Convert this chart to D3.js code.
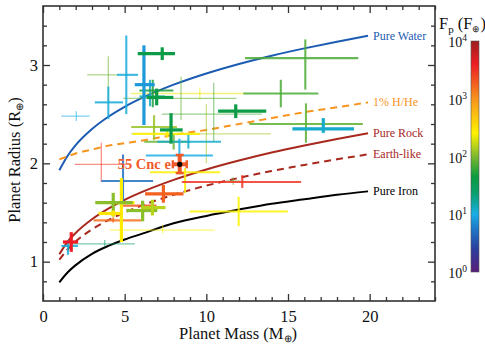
<!DOCTYPE html>
<html><head><meta charset="utf-8">
<script src="https://cdn.jsdelivr.net/npm/d3@7"></script>
<style>body{margin:0;background:#fff} svg{display:block} text{font-family:'Liberation Serif','Times New Roman',serif}</style>
</head><body>
<svg id="c" width="485" height="346"></svg>
<script>
// ---------- data ----------
// planets: mass, mass range, radius, radius range, incident flux, precision class
const pMass   = [2.04,4.0,4.0,5.1,6.18,7.3,6.55,6.72,6.96,9.6,8.45,10.45,10.0,6.8,7.84,8.0,8.9,8.35,7.6,3.57,4.9,4.8,4.3,4.3,4.3,7.33,6.1,6.7,6.1,7.37,8.7,12.2,11.65,11.98,1.73,1.53,3.78,16.06,14.56,11.8,16.1,17.16];
const pMassLo = [1.12,2.7,3.17,4.53,5.62,5.8,5.9,5.9,6.35,5.4,4.9,7.27,5.4,5.4,7.16,6.2,7.0,6.3,5.5,1.94,3.57,4.0,3.2,3.4,3.1,4.1,5.1,6.0,4.8,6.25,6.55,8.5,11.2,8.98,1.22,1.12,1.63,12.37,12.27,10.72,12.63,15.27];
const pMassHi = [2.86,4.55,4.9,5.82,6.84,8.08,7.47,7.98,7.98,12.35,11.85,13.4,13.95,8.2,8.55,9.0,10.9,10.4,9.6,5.4,6.74,5.6,5.5,4.9,6.0,10.5,7.0,7.5,6.95,8.6,10.85,15.8,12.1,14.99,2.15,2.14,5.62,19.3,16.86,13.67,19.58,19.04];
const pRad    = [2.48,2.90,2.62,2.90,2.80,3.115,2.68,2.74,2.67,2.71,2.66,2.50,2.30,2.37,2.34,2.22,2.22,2.08,2.30,1.99,1.82,1.60,1.60,1.49,1.42,1.32,1.52,1.55,1.57,1.69,1.91,1.81,1.82,1.51,1.20,1.16,1.18,3.07,2.71,2.53,2.40,2.35];
const pRadLo  = [2.43,2.64,2.45,2.50,2.39,3.05,2.58,2.57,2.59,2.65,2.44,2.22,2.00,2.24,2.20,2.14,2.15,1.98,2.26,1.81,1.59,1.20,1.46,1.46,1.40,1.29,1.41,1.47,1.53,1.60,1.70,1.75,1.78,1.36,1.10,1.07,1.15,2.75,2.57,2.46,2.21,2.31];
const pRadHi  = [2.53,3.09,2.78,3.30,3.20,3.18,2.85,2.85,2.76,2.77,2.88,2.82,2.60,2.49,2.51,2.30,2.30,2.25,2.34,2.21,2.09,1.85,1.70,1.52,1.45,1.37,1.62,1.63,1.61,1.78,1.95,1.88,1.86,1.66,1.30,1.22,1.22,3.26,2.85,2.60,2.61,2.46];
const pFlux   = [10,90,11,11,8,40,13,50,40,220,80,70,130,120,40,90,12,10,260,3000,5,280,110,300,1500,250,110,150,2000,1800,270,3000,80,250,4000,11,25,70,70,40,80,12];
const pPrec   = [1,1,2,2,3,3,2,2,3,1,1,1,1,2,3,2,2,2,2,1,2,3,3,3,2,1,3,3,2,3,2,2,1,2,3,2,1,2,2,3,2,3];

// highlighted planet
const cncName = "55 Cnc e";
const cncMass = 8.37, cncMassLo = 7.95, cncMassHi = 8.8;
const cncRad = 1.99, cncRadLo = 1.90, cncRadHi = 2.085;

// composition curves
const curveMass = [1,1.5,2,3,4,5,6,8,10,12,14,16,18,19.9];
const waterR = [1.93,2.075,2.185,2.349,2.474,2.575,2.66,2.80,2.914,3.011,3.095,3.169,3.237,3.297];
const hheR   = [2.04,2.07,2.10,2.14,2.18,2.205,2.23,2.29,2.34,2.40,2.46,2.52,2.57,2.62];
const rockR  = [1.075,1.202,1.292,1.431,1.539,1.628,1.704,1.832,1.938,2.029,2.11,2.182,2.248,2.306];
const earthR = [1.02,1.124,1.205,1.328,1.423,1.501,1.568,1.68,1.773,1.852,1.922,1.984,2.041,2.091];
const ironR  = [0.79,0.89,0.965,1.08,1.16,1.225,1.28,1.39,1.465,1.53,1.59,1.635,1.68,1.715];
const curveNames = ["Pure Water","1% H/He","Pure Rock","Earth-like","Pure Iron"];

// axes
const xMajor = [0,5,10,15,20];
const yMajor = [1,2,3];
const cbExp = [0,1,2,3,4];

// colour bar stops (log10 flux)
const cbStopLog = [0,0.4,0.75,1.0,1.35,1.65,2.0,2.4,3.0,3.6,4.0];
const cbStopCol = ["#5a1d7a","#2b3f9e","#1f78c8","#1aaee6","#0aa070","#0c9a3e","#7cb82f","#fff200","#f7941d","#ed1c24","#9e1f1f"];

// ---------- drawing ----------
const FONT = "'Liberation Serif','Times New Roman',serif";
const svg = d3.select('#c').style('font-family', FONT);
const x = d3.scaleLinear().domain([0,24]).range([43,435]);
const y = d3.scaleLinear().domain([0.6,3.6]).range([301,6]);
const col = d3.scaleLinear().domain(cbStopLog).range(cbStopCol).interpolate(d3.interpolateRgb).clamp(true);
const wScale = d3.scaleOrdinal().domain([1,2,3]).range([1.3,2.1,3.2]);
const oScale = d3.scaleOrdinal().domain([1,2,3]).range([0.55,0.85,1]);

// curves
const line = d3.line().x(d => x(d[0])).y(d => y(d[1])).curve(d3.curveMonotoneX);
const curves = [
  {r: waterR, c: "#1b5cb2", dash: null},
  {r: hheR,   c: "#f7941d", dash: "7,5"},
  {r: rockR,  c: "#a8281e", dash: null},
  {r: earthR, c: "#a8281e", dash: "7,5"},
  {r: ironR,  c: "#000000", dash: null}
];
const gc = svg.append('g');
curves.forEach((cv, i) => {
  const pts = curveMass.map((m, j) => [m, cv.r[j]]);
  gc.append('path').attr('d', line(pts)).attr('fill','none')
    .attr('stroke', cv.c).attr('stroke-width', 2)
    .attr('stroke-dasharray', cv.dash);
  gc.append('text').attr('x', x(curveMass[curveMass.length-1]) + 5)
    .attr('y', y(cv.r[cv.r.length-1]) + 4)
    .attr('font-size', 12).attr('fill', cv.c).text(curveNames[i]);
});

// planets
const idx = d3.range(pMass.length).sort((a,b) => pPrec[a]-pPrec[b]);
const gp = svg.append('g');
idx.forEach(i => {
  const c = col(Math.log10(pFlux[i]));
  const g = gp.append('g').attr('stroke', c).attr('stroke-width', wScale(pPrec[i]))
    .attr('stroke-opacity', oScale(pPrec[i]));
  g.append('line').attr('x1', x(pMassLo[i])).attr('x2', x(pMassHi[i]))
    .attr('y1', y(pRad[i])).attr('y2', y(pRad[i]));
  g.append('line').attr('x1', x(pMass[i])).attr('x2', x(pMass[i]))
    .attr('y1', y(pRadLo[i])).attr('y2', y(pRadHi[i]));
});

// 55 Cnc e
const cc = "#f05a28";
const gk = svg.append('g').attr('stroke', cc).attr('stroke-width', 4);
gk.append('line').attr('x1', x(cncMassLo)).attr('x2', x(cncMassHi)).attr('y1', y(cncRad)).attr('y2', y(cncRad));
gk.append('line').attr('x1', x(cncMass)).attr('x2', x(cncMass)).attr('y1', y(cncRadLo)).attr('y2', y(cncRadHi));
[cncMassLo, cncMassHi].forEach(m => gk.append('line').attr('stroke-width',2.5)
  .attr('x1', x(m)).attr('x2', x(m)).attr('y1', y(cncRad)-4).attr('y2', y(cncRad)+4));
[cncRadLo, cncRadHi].forEach(r => gk.append('line').attr('stroke-width',2.5)
  .attr('x1', x(cncMass)-4).attr('x2', x(cncMass)+4).attr('y1', y(r)).attr('y2', y(r)));
svg.append('circle').attr('cx', x(cncMass)).attr('cy', y(cncRad)).attr('r', 2.6).attr('fill', '#000');
svg.append('text').attr('x', x(cncMassLo) - 2).attr('y', y(cncRad) + 4.5)
  .attr('text-anchor','end').attr('font-size', 14.5).attr('font-weight','bold')
  .attr('fill', cc).text(cncName);

// axes
const axCol = "#333";
function styleAxis(g){
  g.attr('font-family', FONT);
  g.select('.domain').remove();
  g.selectAll('line').attr('stroke', axCol).attr('stroke-width', 1.3);
  g.selectAll('text').attr('font-family', FONT).style('font-family', FONT).attr('fill','#111');
}
const xMinor = d3.range(0, 25, 1).filter(v => !xMajor.includes(v));
const yMinor = d3.range(0.6, 3.61, 0.2).map(v => +v.toFixed(1)).filter(v => !yMajor.includes(v) && v > 0.6 && v < 3.6);

svg.append('g').attr('transform','translate(0,301)')
  .call(d3.axisBottom(x).tickValues(xMajor).tickSize(-7).tickPadding(9).tickFormat(d3.format('d')))
  .call(g => g.selectAll('text').attr('font-size', 16.5)).call(styleAxis);
svg.append('g').attr('transform','translate(0,301)')
  .call(d3.axisBottom(x).tickValues(xMinor).tickSize(-4).tickFormat('')).call(styleAxis);
svg.append('g').attr('transform','translate(0,6)')
  .call(d3.axisTop(x).tickValues(xMajor).tickSize(-7).tickFormat('')).call(styleAxis);
svg.append('g').attr('transform','translate(0,6)')
  .call(d3.axisTop(x).tickValues(xMinor).tickSize(-4).tickFormat('')).call(styleAxis);
svg.append('g').attr('transform','translate(43,0)')
  .call(d3.axisLeft(y).tickValues(yMajor).tickSize(-7).tickPadding(5).tickFormat(d3.format('d')))
  .call(g => g.selectAll('text').attr('font-size', 16.5)).call(styleAxis);
svg.append('g').attr('transform','translate(43,0)')
  .call(d3.axisLeft(y).tickValues(yMinor).tickSize(-4).tickFormat('')).call(styleAxis);
svg.append('g').attr('transform','translate(435,0)')
  .call(d3.axisRight(y).tickValues(yMajor).tickSize(-7).tickFormat('')).call(styleAxis);
svg.append('g').attr('transform','translate(435,0)')
  .call(d3.axisRight(y).tickValues(yMinor).tickSize(-4).tickFormat('')).call(styleAxis);
svg.append('rect').attr('x', 43).attr('y', 6).attr('width', 392).attr('height', 295)
  .attr('fill','none').attr('stroke', axCol).attr('stroke-width', 1.6);

// axis titles
const xt = svg.append('text').attr('x', 238).attr('y', 339).attr('text-anchor','middle').attr('font-size', 16.5).attr('fill','#111');
xt.append('tspan').text('Planet Mass (M');
xt.append('tspan').attr('font-size', 10).attr('dy', 3).text('⊕');
xt.append('tspan').attr('dy', -3).text(')');
const yt = svg.append('text').attr('transform','translate(20,160) rotate(-90)').attr('text-anchor','middle').attr('font-size', 16.5).attr('fill','#111');
yt.append('tspan').text('Planet Radius (R');
yt.append('tspan').attr('font-size', 10).attr('dy', 3).text('⊕');
yt.append('tspan').attr('dy', -3).text(')');

// colour bar
const cbY = d3.scaleLog().domain([1, 1e4]).range([272, 41]);
const defs = svg.append('defs');
const grad = defs.append('linearGradient').attr('id','cbg').attr('x1',0).attr('y1',1).attr('x2',0).attr('y2',0);
cbStopLog.forEach((v, i) => grad.append('stop').attr('offset', v/4).attr('stop-color', cbStopCol[i]));
svg.append('rect').attr('x', 471).attr('y', cbY(1e4)).attr('width', 8).attr('height', cbY(1) - cbY(1e4))
  .attr('fill','url(#cbg)').attr('stroke','#555').attr('stroke-width',0.6);
cbExp.forEach(e => {
  const t = svg.append('text').attr('x', 467).attr('y', cbY(Math.pow(10, e)) + 6)
    .attr('text-anchor','end').attr('font-size', 14).attr('fill','#111');
  t.append('tspan').text('10');
  t.append('tspan').attr('font-size', 9.5).attr('dy', -6).text(String(e));
});
const ct = svg.append('text').attr('x', 439).attr('y', 29).attr('font-size', 16.5).attr('fill','#111');
ct.append('tspan').text('F');
ct.append('tspan').attr('font-size', 11).attr('dy', 4).text('p');
ct.append('tspan').attr('dy', -4).text(' (F');
ct.append('tspan').attr('font-size', 9).attr('dy', 3).text('⊕');
ct.append('tspan').attr('dy', -3).text(')');
</script>
</body></html>
